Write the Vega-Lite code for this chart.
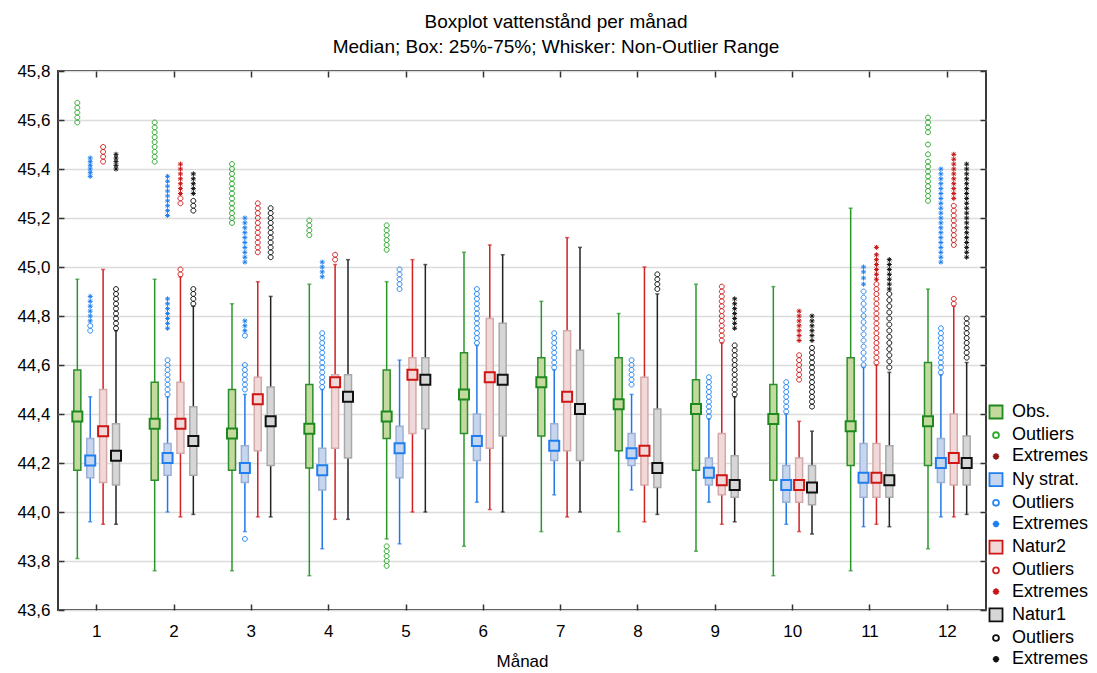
{
"$schema": "https://vega.github.io/schema/vega-lite/v6.json",
"width": 928, "height": 539,
"autosize": {"type": "none"},
"padding": {"left": 58, "top": 71, "right": 111, "bottom": 63},
"background": "white",
"title": {"text": "Boxplot vattenstånd per månad", "subtitle": "Median; Box: 25%-75%; Whisker: Non-Outlier Range", "font": "Liberation Sans", "fontSize": 19, "fontWeight": "normal", "color": "#000", "subtitleFont": "Liberation Sans", "subtitleFontSize": 19, "subtitleColor": "#000", "anchor": "middle", "offset": 5, "subtitlePadding": 6, "dx": 34},
"datasets": {
"boxes": [
{"m":1,"e":"Obs.","lo":43.81,"q1":44.17,"med":44.39,"q3":44.58,"hi":44.95},
{"m":1,"e":"Ny strat.","lo":43.96,"q1":44.14,"med":44.21,"q3":44.30,"hi":44.47},
{"m":1,"e":"Natur2","lo":43.95,"q1":44.12,"med":44.33,"q3":44.50,"hi":44.99},
{"m":1,"e":"Natur1","lo":43.95,"q1":44.11,"med":44.23,"q3":44.36,"hi":44.74},
{"m":2,"e":"Obs.","lo":43.76,"q1":44.13,"med":44.36,"q3":44.53,"hi":44.95},
{"m":2,"e":"Ny strat.","lo":44.00,"q1":44.15,"med":44.22,"q3":44.28,"hi":44.47},
{"m":2,"e":"Natur2","lo":43.98,"q1":44.24,"med":44.36,"q3":44.53,"hi":44.96},
{"m":2,"e":"Natur1","lo":43.99,"q1":44.15,"med":44.29,"q3":44.43,"hi":44.84},
{"m":3,"e":"Obs.","lo":43.76,"q1":44.17,"med":44.32,"q3":44.50,"hi":44.85},
{"m":3,"e":"Ny strat.","lo":43.92,"q1":44.12,"med":44.18,"q3":44.27,"hi":44.48},
{"m":3,"e":"Natur2","lo":43.98,"q1":44.25,"med":44.46,"q3":44.55,"hi":44.94},
{"m":3,"e":"Natur1","lo":43.98,"q1":44.19,"med":44.37,"q3":44.51,"hi":44.88},
{"m":4,"e":"Obs.","lo":43.74,"q1":44.18,"med":44.34,"q3":44.52,"hi":44.93},
{"m":4,"e":"Ny strat.","lo":43.85,"q1":44.09,"med":44.17,"q3":44.26,"hi":44.50},
{"m":4,"e":"Natur2","lo":43.97,"q1":44.26,"med":44.53,"q3":44.56,"hi":45.01},
{"m":4,"e":"Natur1","lo":43.97,"q1":44.22,"med":44.47,"q3":44.56,"hi":45.03},
{"m":5,"e":"Obs.","lo":43.89,"q1":44.30,"med":44.39,"q3":44.58,"hi":44.94},
{"m":5,"e":"Ny strat.","lo":43.87,"q1":44.14,"med":44.26,"q3":44.35,"hi":44.62},
{"m":5,"e":"Natur2","lo":44.00,"q1":44.32,"med":44.56,"q3":44.63,"hi":45.03},
{"m":5,"e":"Natur1","lo":44.00,"q1":44.34,"med":44.54,"q3":44.63,"hi":45.01},
{"m":6,"e":"Obs.","lo":43.86,"q1":44.32,"med":44.48,"q3":44.65,"hi":45.06},
{"m":6,"e":"Ny strat.","lo":44.04,"q1":44.21,"med":44.29,"q3":44.40,"hi":44.68},
{"m":6,"e":"Natur2","lo":44.01,"q1":44.26,"med":44.55,"q3":44.79,"hi":45.09},
{"m":6,"e":"Natur1","lo":44.00,"q1":44.31,"med":44.54,"q3":44.77,"hi":45.05},
{"m":7,"e":"Obs.","lo":43.92,"q1":44.31,"med":44.53,"q3":44.63,"hi":44.86},
{"m":7,"e":"Ny strat.","lo":44.07,"q1":44.21,"med":44.27,"q3":44.36,"hi":44.58},
{"m":7,"e":"Natur2","lo":43.98,"q1":44.25,"med":44.47,"q3":44.74,"hi":45.12},
{"m":7,"e":"Natur1","lo":44.00,"q1":44.21,"med":44.42,"q3":44.66,"hi":45.08},
{"m":8,"e":"Obs.","lo":43.92,"q1":44.25,"med":44.44,"q3":44.63,"hi":44.81},
{"m":8,"e":"Ny strat.","lo":44.09,"q1":44.19,"med":44.24,"q3":44.32,"hi":44.48},
{"m":8,"e":"Natur2","lo":43.96,"q1":44.11,"med":44.25,"q3":44.55,"hi":45.00},
{"m":8,"e":"Natur1","lo":43.99,"q1":44.10,"med":44.18,"q3":44.42,"hi":44.89},
{"m":9,"e":"Obs.","lo":43.84,"q1":44.17,"med":44.42,"q3":44.54,"hi":44.93},
{"m":9,"e":"Ny strat.","lo":44.04,"q1":44.11,"med":44.16,"q3":44.22,"hi":44.38},
{"m":9,"e":"Natur2","lo":43.95,"q1":44.07,"med":44.13,"q3":44.32,"hi":44.69},
{"m":9,"e":"Natur1","lo":43.96,"q1":44.06,"med":44.11,"q3":44.23,"hi":44.47},
{"m":10,"e":"Obs.","lo":43.74,"q1":44.13,"med":44.38,"q3":44.52,"hi":44.92},
{"m":10,"e":"Ny strat.","lo":43.95,"q1":44.04,"med":44.11,"q3":44.19,"hi":44.40},
{"m":10,"e":"Natur2","lo":43.92,"q1":44.04,"med":44.11,"q3":44.22,"hi":44.37},
{"m":10,"e":"Natur1","lo":43.91,"q1":44.03,"med":44.10,"q3":44.19,"hi":44.33},
{"m":11,"e":"Obs.","lo":43.76,"q1":44.19,"med":44.35,"q3":44.63,"hi":45.24},
{"m":11,"e":"Ny strat.","lo":43.94,"q1":44.06,"med":44.14,"q3":44.28,"hi":44.59},
{"m":11,"e":"Natur2","lo":43.95,"q1":44.06,"med":44.14,"q3":44.28,"hi":44.60},
{"m":11,"e":"Natur1","lo":43.94,"q1":44.06,"med":44.13,"q3":44.27,"hi":44.57},
{"m":12,"e":"Obs.","lo":43.85,"q1":44.19,"med":44.37,"q3":44.61,"hi":44.91},
{"m":12,"e":"Ny strat.","lo":43.98,"q1":44.12,"med":44.20,"q3":44.30,"hi":44.56},
{"m":12,"e":"Natur2","lo":43.98,"q1":44.11,"med":44.22,"q3":44.40,"hi":44.84},
{"m":12,"e":"Natur1","lo":43.99,"q1":44.11,"med":44.20,"q3":44.31,"hi":44.61}
],
"pts": [
{"m":1,"s":"Obs.","e":"Obs. Outliers","v":45.59},{"m":1,"s":"Obs.","e":"Obs. Outliers","v":45.61},{"m":1,"s":"Obs.","e":"Obs. Outliers","v":45.63},{"m":1,"s":"Obs.","e":"Obs. Outliers","v":45.65},{"m":1,"s":"Obs.","e":"Obs. Outliers","v":45.67},
{"m":1,"s":"Ny strat.","e":"Ny strat. Extremes","v":45.37},{"m":1,"s":"Ny strat.","e":"Ny strat. Extremes","v":45.385},{"m":1,"s":"Ny strat.","e":"Ny strat. Extremes","v":45.40},{"m":1,"s":"Ny strat.","e":"Ny strat. Extremes","v":45.415},{"m":1,"s":"Ny strat.","e":"Ny strat. Extremes","v":45.43},{"m":1,"s":"Ny strat.","e":"Ny strat. Extremes","v":45.445},
{"m":1,"s":"Ny strat.","e":"Ny strat. Extremes","v":44.78},{"m":1,"s":"Ny strat.","e":"Ny strat. Extremes","v":44.80},{"m":1,"s":"Ny strat.","e":"Ny strat. Extremes","v":44.82},{"m":1,"s":"Ny strat.","e":"Ny strat. Extremes","v":44.84},{"m":1,"s":"Ny strat.","e":"Ny strat. Extremes","v":44.86},{"m":1,"s":"Ny strat.","e":"Ny strat. Extremes","v":44.88},
{"m":1,"s":"Ny strat.","e":"Ny strat. Outliers","v":44.74},{"m":1,"s":"Ny strat.","e":"Ny strat. Outliers","v":44.76},
{"m":1,"s":"Natur2","e":"Natur2 Outliers","v":45.43},{"m":1,"s":"Natur2","e":"Natur2 Outliers","v":45.45},{"m":1,"s":"Natur2","e":"Natur2 Outliers","v":45.47},{"m":1,"s":"Natur2","e":"Natur2 Outliers","v":45.49},
{"m":1,"s":"Natur1","e":"Natur1 Extremes","v":45.40},{"m":1,"s":"Natur1","e":"Natur1 Extremes","v":45.415},{"m":1,"s":"Natur1","e":"Natur1 Extremes","v":45.43},{"m":1,"s":"Natur1","e":"Natur1 Extremes","v":45.445},{"m":1,"s":"Natur1","e":"Natur1 Extremes","v":45.46},
{"m":1,"s":"Natur1","e":"Natur1 Outliers","v":44.75},{"m":1,"s":"Natur1","e":"Natur1 Outliers","v":44.77},{"m":1,"s":"Natur1","e":"Natur1 Outliers","v":44.79},{"m":1,"s":"Natur1","e":"Natur1 Outliers","v":44.81},{"m":1,"s":"Natur1","e":"Natur1 Outliers","v":44.83},{"m":1,"s":"Natur1","e":"Natur1 Outliers","v":44.85},{"m":1,"s":"Natur1","e":"Natur1 Outliers","v":44.87},{"m":1,"s":"Natur1","e":"Natur1 Outliers","v":44.89},{"m":1,"s":"Natur1","e":"Natur1 Outliers","v":44.91},
{"m":2,"s":"Obs.","e":"Obs. Outliers","v":45.43},{"m":2,"s":"Obs.","e":"Obs. Outliers","v":45.45},{"m":2,"s":"Obs.","e":"Obs. Outliers","v":45.47},{"m":2,"s":"Obs.","e":"Obs. Outliers","v":45.49},{"m":2,"s":"Obs.","e":"Obs. Outliers","v":45.51},{"m":2,"s":"Obs.","e":"Obs. Outliers","v":45.53},{"m":2,"s":"Obs.","e":"Obs. Outliers","v":45.55},{"m":2,"s":"Obs.","e":"Obs. Outliers","v":45.57},{"m":2,"s":"Obs.","e":"Obs. Outliers","v":45.59},
{"m":2,"s":"Ny strat.","e":"Ny strat. Extremes","v":45.21},{"m":2,"s":"Ny strat.","e":"Ny strat. Extremes","v":45.23},{"m":2,"s":"Ny strat.","e":"Ny strat. Extremes","v":45.25},{"m":2,"s":"Ny strat.","e":"Ny strat. Extremes","v":45.27},{"m":2,"s":"Ny strat.","e":"Ny strat. Extremes","v":45.29},{"m":2,"s":"Ny strat.","e":"Ny strat. Extremes","v":45.31},{"m":2,"s":"Ny strat.","e":"Ny strat. Extremes","v":45.33},{"m":2,"s":"Ny strat.","e":"Ny strat. Extremes","v":45.35},{"m":2,"s":"Ny strat.","e":"Ny strat. Extremes","v":45.37},
{"m":2,"s":"Ny strat.","e":"Ny strat. Extremes","v":44.75},{"m":2,"s":"Ny strat.","e":"Ny strat. Extremes","v":44.77},{"m":2,"s":"Ny strat.","e":"Ny strat. Extremes","v":44.79},{"m":2,"s":"Ny strat.","e":"Ny strat. Extremes","v":44.81},{"m":2,"s":"Ny strat.","e":"Ny strat. Extremes","v":44.83},{"m":2,"s":"Ny strat.","e":"Ny strat. Extremes","v":44.85},{"m":2,"s":"Ny strat.","e":"Ny strat. Extremes","v":44.87},
{"m":2,"s":"Ny strat.","e":"Ny strat. Outliers","v":44.48},{"m":2,"s":"Ny strat.","e":"Ny strat. Outliers","v":44.50},{"m":2,"s":"Ny strat.","e":"Ny strat. Outliers","v":44.52},{"m":2,"s":"Ny strat.","e":"Ny strat. Outliers","v":44.54},{"m":2,"s":"Ny strat.","e":"Ny strat. Outliers","v":44.56},{"m":2,"s":"Ny strat.","e":"Ny strat. Outliers","v":44.58},{"m":2,"s":"Ny strat.","e":"Ny strat. Outliers","v":44.60},{"m":2,"s":"Ny strat.","e":"Ny strat. Outliers","v":44.62},
{"m":2,"s":"Natur2","e":"Natur2 Extremes","v":45.30},{"m":2,"s":"Natur2","e":"Natur2 Extremes","v":45.32},{"m":2,"s":"Natur2","e":"Natur2 Extremes","v":45.34},{"m":2,"s":"Natur2","e":"Natur2 Extremes","v":45.36},{"m":2,"s":"Natur2","e":"Natur2 Extremes","v":45.38},{"m":2,"s":"Natur2","e":"Natur2 Extremes","v":45.40},{"m":2,"s":"Natur2","e":"Natur2 Extremes","v":45.42},
{"m":2,"s":"Natur2","e":"Natur2 Outliers","v":45.26},{"m":2,"s":"Natur2","e":"Natur2 Outliers","v":45.28},{"m":2,"s":"Natur2","e":"Natur2 Outliers","v":44.97},{"m":2,"s":"Natur2","e":"Natur2 Outliers","v":44.99},
{"m":2,"s":"Natur1","e":"Natur1 Extremes","v":45.30},{"m":2,"s":"Natur1","e":"Natur1 Extremes","v":45.32},{"m":2,"s":"Natur1","e":"Natur1 Extremes","v":45.34},{"m":2,"s":"Natur1","e":"Natur1 Extremes","v":45.36},{"m":2,"s":"Natur1","e":"Natur1 Extremes","v":45.38},
{"m":2,"s":"Natur1","e":"Natur1 Outliers","v":45.23},{"m":2,"s":"Natur1","e":"Natur1 Outliers","v":45.25},{"m":2,"s":"Natur1","e":"Natur1 Outliers","v":45.27},{"m":2,"s":"Natur1","e":"Natur1 Outliers","v":44.85},{"m":2,"s":"Natur1","e":"Natur1 Outliers","v":44.87},{"m":2,"s":"Natur1","e":"Natur1 Outliers","v":44.89},{"m":2,"s":"Natur1","e":"Natur1 Outliers","v":44.91},
{"m":3,"s":"Obs.","e":"Obs. Outliers","v":45.18},{"m":3,"s":"Obs.","e":"Obs. Outliers","v":45.20},{"m":3,"s":"Obs.","e":"Obs. Outliers","v":45.22},{"m":3,"s":"Obs.","e":"Obs. Outliers","v":45.24},{"m":3,"s":"Obs.","e":"Obs. Outliers","v":45.26},{"m":3,"s":"Obs.","e":"Obs. Outliers","v":45.28},{"m":3,"s":"Obs.","e":"Obs. Outliers","v":45.30},{"m":3,"s":"Obs.","e":"Obs. Outliers","v":45.32},{"m":3,"s":"Obs.","e":"Obs. Outliers","v":45.34},{"m":3,"s":"Obs.","e":"Obs. Outliers","v":45.36},{"m":3,"s":"Obs.","e":"Obs. Outliers","v":45.38},{"m":3,"s":"Obs.","e":"Obs. Outliers","v":45.40},{"m":3,"s":"Obs.","e":"Obs. Outliers","v":45.42},
{"m":3,"s":"Ny strat.","e":"Ny strat. Extremes","v":45.02},{"m":3,"s":"Ny strat.","e":"Ny strat. Extremes","v":45.04},{"m":3,"s":"Ny strat.","e":"Ny strat. Extremes","v":45.06},{"m":3,"s":"Ny strat.","e":"Ny strat. Extremes","v":45.08},{"m":3,"s":"Ny strat.","e":"Ny strat. Extremes","v":45.10},{"m":3,"s":"Ny strat.","e":"Ny strat. Extremes","v":45.12},{"m":3,"s":"Ny strat.","e":"Ny strat. Extremes","v":45.14},{"m":3,"s":"Ny strat.","e":"Ny strat. Extremes","v":45.16},{"m":3,"s":"Ny strat.","e":"Ny strat. Extremes","v":45.18},{"m":3,"s":"Ny strat.","e":"Ny strat. Extremes","v":45.20},
{"m":3,"s":"Ny strat.","e":"Ny strat. Extremes","v":44.74},{"m":3,"s":"Ny strat.","e":"Ny strat. Extremes","v":44.76},{"m":3,"s":"Ny strat.","e":"Ny strat. Extremes","v":44.78},
{"m":3,"s":"Ny strat.","e":"Ny strat. Outliers","v":44.72},{"m":3,"s":"Ny strat.","e":"Ny strat. Outliers","v":44.50},{"m":3,"s":"Ny strat.","e":"Ny strat. Outliers","v":44.52},{"m":3,"s":"Ny strat.","e":"Ny strat. Outliers","v":44.54},{"m":3,"s":"Ny strat.","e":"Ny strat. Outliers","v":44.56},{"m":3,"s":"Ny strat.","e":"Ny strat. Outliers","v":44.58},{"m":3,"s":"Ny strat.","e":"Ny strat. Outliers","v":44.60},{"m":3,"s":"Ny strat.","e":"Ny strat. Outliers","v":43.89},
{"m":3,"s":"Natur2","e":"Natur2 Outliers","v":45.06},{"m":3,"s":"Natur2","e":"Natur2 Outliers","v":45.08},{"m":3,"s":"Natur2","e":"Natur2 Outliers","v":45.10},{"m":3,"s":"Natur2","e":"Natur2 Outliers","v":45.12},{"m":3,"s":"Natur2","e":"Natur2 Outliers","v":45.14},{"m":3,"s":"Natur2","e":"Natur2 Outliers","v":45.16},{"m":3,"s":"Natur2","e":"Natur2 Outliers","v":45.18},{"m":3,"s":"Natur2","e":"Natur2 Outliers","v":45.20},{"m":3,"s":"Natur2","e":"Natur2 Outliers","v":45.22},{"m":3,"s":"Natur2","e":"Natur2 Outliers","v":45.24},{"m":3,"s":"Natur2","e":"Natur2 Outliers","v":45.26},
{"m":3,"s":"Natur1","e":"Natur1 Outliers","v":45.04},{"m":3,"s":"Natur1","e":"Natur1 Outliers","v":45.06},{"m":3,"s":"Natur1","e":"Natur1 Outliers","v":45.08},{"m":3,"s":"Natur1","e":"Natur1 Outliers","v":45.10},{"m":3,"s":"Natur1","e":"Natur1 Outliers","v":45.12},{"m":3,"s":"Natur1","e":"Natur1 Outliers","v":45.14},{"m":3,"s":"Natur1","e":"Natur1 Outliers","v":45.16},{"m":3,"s":"Natur1","e":"Natur1 Outliers","v":45.18},{"m":3,"s":"Natur1","e":"Natur1 Outliers","v":45.20},{"m":3,"s":"Natur1","e":"Natur1 Outliers","v":45.22},{"m":3,"s":"Natur1","e":"Natur1 Outliers","v":45.24},
{"m":4,"s":"Obs.","e":"Obs. Outliers","v":45.13},{"m":4,"s":"Obs.","e":"Obs. Outliers","v":45.15},{"m":4,"s":"Obs.","e":"Obs. Outliers","v":45.17},{"m":4,"s":"Obs.","e":"Obs. Outliers","v":45.19},
{"m":4,"s":"Ny strat.","e":"Ny strat. Extremes","v":44.96},{"m":4,"s":"Ny strat.","e":"Ny strat. Extremes","v":44.98},{"m":4,"s":"Ny strat.","e":"Ny strat. Extremes","v":45.00},{"m":4,"s":"Ny strat.","e":"Ny strat. Extremes","v":45.02},
{"m":4,"s":"Ny strat.","e":"Ny strat. Outliers","v":44.51},{"m":4,"s":"Ny strat.","e":"Ny strat. Outliers","v":44.53},{"m":4,"s":"Ny strat.","e":"Ny strat. Outliers","v":44.55},{"m":4,"s":"Ny strat.","e":"Ny strat. Outliers","v":44.57},{"m":4,"s":"Ny strat.","e":"Ny strat. Outliers","v":44.59},{"m":4,"s":"Ny strat.","e":"Ny strat. Outliers","v":44.61},{"m":4,"s":"Ny strat.","e":"Ny strat. Outliers","v":44.63},{"m":4,"s":"Ny strat.","e":"Ny strat. Outliers","v":44.65},{"m":4,"s":"Ny strat.","e":"Ny strat. Outliers","v":44.67},{"m":4,"s":"Ny strat.","e":"Ny strat. Outliers","v":44.69},{"m":4,"s":"Ny strat.","e":"Ny strat. Outliers","v":44.71},{"m":4,"s":"Ny strat.","e":"Ny strat. Outliers","v":44.73},
{"m":4,"s":"Natur2","e":"Natur2 Outliers","v":45.03},{"m":4,"s":"Natur2","e":"Natur2 Outliers","v":45.05},
{"m":5,"s":"Obs.","e":"Obs. Outliers","v":45.07},{"m":5,"s":"Obs.","e":"Obs. Outliers","v":45.09},{"m":5,"s":"Obs.","e":"Obs. Outliers","v":45.11},{"m":5,"s":"Obs.","e":"Obs. Outliers","v":45.13},{"m":5,"s":"Obs.","e":"Obs. Outliers","v":45.15},{"m":5,"s":"Obs.","e":"Obs. Outliers","v":45.17},
{"m":5,"s":"Obs.","e":"Obs. Outliers","v":43.78},{"m":5,"s":"Obs.","e":"Obs. Outliers","v":43.80},{"m":5,"s":"Obs.","e":"Obs. Outliers","v":43.82},{"m":5,"s":"Obs.","e":"Obs. Outliers","v":43.84},{"m":5,"s":"Obs.","e":"Obs. Outliers","v":43.86},
{"m":5,"s":"Ny strat.","e":"Ny strat. Outliers","v":44.91},{"m":5,"s":"Ny strat.","e":"Ny strat. Outliers","v":44.93},{"m":5,"s":"Ny strat.","e":"Ny strat. Outliers","v":44.95},{"m":5,"s":"Ny strat.","e":"Ny strat. Outliers","v":44.97},{"m":5,"s":"Ny strat.","e":"Ny strat. Outliers","v":44.99},
{"m":6,"s":"Ny strat.","e":"Ny strat. Outliers","v":44.69},{"m":6,"s":"Ny strat.","e":"Ny strat. Outliers","v":44.71},{"m":6,"s":"Ny strat.","e":"Ny strat. Outliers","v":44.73},{"m":6,"s":"Ny strat.","e":"Ny strat. Outliers","v":44.75},{"m":6,"s":"Ny strat.","e":"Ny strat. Outliers","v":44.77},{"m":6,"s":"Ny strat.","e":"Ny strat. Outliers","v":44.79},{"m":6,"s":"Ny strat.","e":"Ny strat. Outliers","v":44.81},{"m":6,"s":"Ny strat.","e":"Ny strat. Outliers","v":44.83},{"m":6,"s":"Ny strat.","e":"Ny strat. Outliers","v":44.85},{"m":6,"s":"Ny strat.","e":"Ny strat. Outliers","v":44.87},{"m":6,"s":"Ny strat.","e":"Ny strat. Outliers","v":44.89},{"m":6,"s":"Ny strat.","e":"Ny strat. Outliers","v":44.91},
{"m":7,"s":"Ny strat.","e":"Ny strat. Outliers","v":44.59},{"m":7,"s":"Ny strat.","e":"Ny strat. Outliers","v":44.61},{"m":7,"s":"Ny strat.","e":"Ny strat. Outliers","v":44.63},{"m":7,"s":"Ny strat.","e":"Ny strat. Outliers","v":44.65},{"m":7,"s":"Ny strat.","e":"Ny strat. Outliers","v":44.67},{"m":7,"s":"Ny strat.","e":"Ny strat. Outliers","v":44.69},{"m":7,"s":"Ny strat.","e":"Ny strat. Outliers","v":44.71},{"m":7,"s":"Ny strat.","e":"Ny strat. Outliers","v":44.73},
{"m":8,"s":"Ny strat.","e":"Ny strat. Outliers","v":44.52},{"m":8,"s":"Ny strat.","e":"Ny strat. Outliers","v":44.54},{"m":8,"s":"Ny strat.","e":"Ny strat. Outliers","v":44.56},{"m":8,"s":"Ny strat.","e":"Ny strat. Outliers","v":44.58},{"m":8,"s":"Ny strat.","e":"Ny strat. Outliers","v":44.60},{"m":8,"s":"Ny strat.","e":"Ny strat. Outliers","v":44.62},
{"m":8,"s":"Natur1","e":"Natur1 Outliers","v":44.91},{"m":8,"s":"Natur1","e":"Natur1 Outliers","v":44.93},{"m":8,"s":"Natur1","e":"Natur1 Outliers","v":44.95},{"m":8,"s":"Natur1","e":"Natur1 Outliers","v":44.97},
{"m":9,"s":"Ny strat.","e":"Ny strat. Outliers","v":44.39},{"m":9,"s":"Ny strat.","e":"Ny strat. Outliers","v":44.41},{"m":9,"s":"Ny strat.","e":"Ny strat. Outliers","v":44.43},{"m":9,"s":"Ny strat.","e":"Ny strat. Outliers","v":44.45},{"m":9,"s":"Ny strat.","e":"Ny strat. Outliers","v":44.47},{"m":9,"s":"Ny strat.","e":"Ny strat. Outliers","v":44.49},{"m":9,"s":"Ny strat.","e":"Ny strat. Outliers","v":44.51},{"m":9,"s":"Ny strat.","e":"Ny strat. Outliers","v":44.53},{"m":9,"s":"Ny strat.","e":"Ny strat. Outliers","v":44.55},
{"m":9,"s":"Natur2","e":"Natur2 Outliers","v":44.70},{"m":9,"s":"Natur2","e":"Natur2 Outliers","v":44.72},{"m":9,"s":"Natur2","e":"Natur2 Outliers","v":44.74},{"m":9,"s":"Natur2","e":"Natur2 Outliers","v":44.76},{"m":9,"s":"Natur2","e":"Natur2 Outliers","v":44.78},{"m":9,"s":"Natur2","e":"Natur2 Outliers","v":44.80},{"m":9,"s":"Natur2","e":"Natur2 Outliers","v":44.82},{"m":9,"s":"Natur2","e":"Natur2 Outliers","v":44.84},{"m":9,"s":"Natur2","e":"Natur2 Outliers","v":44.86},{"m":9,"s":"Natur2","e":"Natur2 Outliers","v":44.88},{"m":9,"s":"Natur2","e":"Natur2 Outliers","v":44.90},{"m":9,"s":"Natur2","e":"Natur2 Outliers","v":44.92},
{"m":9,"s":"Natur1","e":"Natur1 Extremes","v":44.75},{"m":9,"s":"Natur1","e":"Natur1 Extremes","v":44.77},{"m":9,"s":"Natur1","e":"Natur1 Extremes","v":44.79},{"m":9,"s":"Natur1","e":"Natur1 Extremes","v":44.81},{"m":9,"s":"Natur1","e":"Natur1 Extremes","v":44.83},{"m":9,"s":"Natur1","e":"Natur1 Extremes","v":44.85},{"m":9,"s":"Natur1","e":"Natur1 Extremes","v":44.87},
{"m":9,"s":"Natur1","e":"Natur1 Outliers","v":44.48},{"m":9,"s":"Natur1","e":"Natur1 Outliers","v":44.50},{"m":9,"s":"Natur1","e":"Natur1 Outliers","v":44.52},{"m":9,"s":"Natur1","e":"Natur1 Outliers","v":44.54},{"m":9,"s":"Natur1","e":"Natur1 Outliers","v":44.56},{"m":9,"s":"Natur1","e":"Natur1 Outliers","v":44.58},{"m":9,"s":"Natur1","e":"Natur1 Outliers","v":44.60},{"m":9,"s":"Natur1","e":"Natur1 Outliers","v":44.62},{"m":9,"s":"Natur1","e":"Natur1 Outliers","v":44.64},{"m":9,"s":"Natur1","e":"Natur1 Outliers","v":44.66},{"m":9,"s":"Natur1","e":"Natur1 Outliers","v":44.68},
{"m":10,"s":"Ny strat.","e":"Ny strat. Outliers","v":44.41},{"m":10,"s":"Ny strat.","e":"Ny strat. Outliers","v":44.43},{"m":10,"s":"Ny strat.","e":"Ny strat. Outliers","v":44.45},{"m":10,"s":"Ny strat.","e":"Ny strat. Outliers","v":44.47},{"m":10,"s":"Ny strat.","e":"Ny strat. Outliers","v":44.49},{"m":10,"s":"Ny strat.","e":"Ny strat. Outliers","v":44.51},{"m":10,"s":"Ny strat.","e":"Ny strat. Outliers","v":44.53},
{"m":10,"s":"Natur2","e":"Natur2 Extremes","v":44.70},{"m":10,"s":"Natur2","e":"Natur2 Extremes","v":44.72},{"m":10,"s":"Natur2","e":"Natur2 Extremes","v":44.74},{"m":10,"s":"Natur2","e":"Natur2 Extremes","v":44.76},{"m":10,"s":"Natur2","e":"Natur2 Extremes","v":44.78},{"m":10,"s":"Natur2","e":"Natur2 Extremes","v":44.80},{"m":10,"s":"Natur2","e":"Natur2 Extremes","v":44.82},
{"m":10,"s":"Natur2","e":"Natur2 Outliers","v":44.54},{"m":10,"s":"Natur2","e":"Natur2 Outliers","v":44.56},{"m":10,"s":"Natur2","e":"Natur2 Outliers","v":44.58},{"m":10,"s":"Natur2","e":"Natur2 Outliers","v":44.60},{"m":10,"s":"Natur2","e":"Natur2 Outliers","v":44.62},{"m":10,"s":"Natur2","e":"Natur2 Outliers","v":44.64},
{"m":10,"s":"Natur1","e":"Natur1 Extremes","v":44.70},{"m":10,"s":"Natur1","e":"Natur1 Extremes","v":44.72},{"m":10,"s":"Natur1","e":"Natur1 Extremes","v":44.74},{"m":10,"s":"Natur1","e":"Natur1 Extremes","v":44.76},{"m":10,"s":"Natur1","e":"Natur1 Extremes","v":44.78},{"m":10,"s":"Natur1","e":"Natur1 Extremes","v":44.80},
{"m":10,"s":"Natur1","e":"Natur1 Outliers","v":44.43},{"m":10,"s":"Natur1","e":"Natur1 Outliers","v":44.45},{"m":10,"s":"Natur1","e":"Natur1 Outliers","v":44.47},{"m":10,"s":"Natur1","e":"Natur1 Outliers","v":44.49},{"m":10,"s":"Natur1","e":"Natur1 Outliers","v":44.51},{"m":10,"s":"Natur1","e":"Natur1 Outliers","v":44.53},{"m":10,"s":"Natur1","e":"Natur1 Outliers","v":44.55},{"m":10,"s":"Natur1","e":"Natur1 Outliers","v":44.57},{"m":10,"s":"Natur1","e":"Natur1 Outliers","v":44.59},{"m":10,"s":"Natur1","e":"Natur1 Outliers","v":44.61},{"m":10,"s":"Natur1","e":"Natur1 Outliers","v":44.63},{"m":10,"s":"Natur1","e":"Natur1 Outliers","v":44.65},{"m":10,"s":"Natur1","e":"Natur1 Outliers","v":44.67},
{"m":11,"s":"Ny strat.","e":"Ny strat. Extremes","v":44.93},{"m":11,"s":"Ny strat.","e":"Ny strat. Extremes","v":44.955},{"m":11,"s":"Ny strat.","e":"Ny strat. Extremes","v":44.98},{"m":11,"s":"Ny strat.","e":"Ny strat. Extremes","v":45.00},
{"m":11,"s":"Ny strat.","e":"Ny strat. Outliers","v":44.60},{"m":11,"s":"Ny strat.","e":"Ny strat. Outliers","v":44.625},{"m":11,"s":"Ny strat.","e":"Ny strat. Outliers","v":44.65},{"m":11,"s":"Ny strat.","e":"Ny strat. Outliers","v":44.675},{"m":11,"s":"Ny strat.","e":"Ny strat. Outliers","v":44.70},{"m":11,"s":"Ny strat.","e":"Ny strat. Outliers","v":44.725},{"m":11,"s":"Ny strat.","e":"Ny strat. Outliers","v":44.75},{"m":11,"s":"Ny strat.","e":"Ny strat. Outliers","v":44.775},{"m":11,"s":"Ny strat.","e":"Ny strat. Outliers","v":44.80},{"m":11,"s":"Ny strat.","e":"Ny strat. Outliers","v":44.825},{"m":11,"s":"Ny strat.","e":"Ny strat. Outliers","v":44.85},{"m":11,"s":"Ny strat.","e":"Ny strat. Outliers","v":44.875},{"m":11,"s":"Ny strat.","e":"Ny strat. Outliers","v":44.90},
{"m":11,"s":"Natur2","e":"Natur2 Extremes","v":44.95},{"m":11,"s":"Natur2","e":"Natur2 Extremes","v":44.97},{"m":11,"s":"Natur2","e":"Natur2 Extremes","v":44.99},{"m":11,"s":"Natur2","e":"Natur2 Extremes","v":45.01},{"m":11,"s":"Natur2","e":"Natur2 Extremes","v":45.03},{"m":11,"s":"Natur2","e":"Natur2 Extremes","v":45.05},{"m":11,"s":"Natur2","e":"Natur2 Extremes","v":45.08},
{"m":11,"s":"Natur2","e":"Natur2 Outliers","v":44.61},{"m":11,"s":"Natur2","e":"Natur2 Outliers","v":44.63},{"m":11,"s":"Natur2","e":"Natur2 Outliers","v":44.65},{"m":11,"s":"Natur2","e":"Natur2 Outliers","v":44.67},{"m":11,"s":"Natur2","e":"Natur2 Outliers","v":44.69},{"m":11,"s":"Natur2","e":"Natur2 Outliers","v":44.71},{"m":11,"s":"Natur2","e":"Natur2 Outliers","v":44.73},{"m":11,"s":"Natur2","e":"Natur2 Outliers","v":44.75},{"m":11,"s":"Natur2","e":"Natur2 Outliers","v":44.77},{"m":11,"s":"Natur2","e":"Natur2 Outliers","v":44.79},{"m":11,"s":"Natur2","e":"Natur2 Outliers","v":44.81},{"m":11,"s":"Natur2","e":"Natur2 Outliers","v":44.83},{"m":11,"s":"Natur2","e":"Natur2 Outliers","v":44.85},{"m":11,"s":"Natur2","e":"Natur2 Outliers","v":44.87},{"m":11,"s":"Natur2","e":"Natur2 Outliers","v":44.89},{"m":11,"s":"Natur2","e":"Natur2 Outliers","v":44.91},{"m":11,"s":"Natur2","e":"Natur2 Outliers","v":44.93},
{"m":11,"s":"Natur1","e":"Natur1 Extremes","v":44.91},{"m":11,"s":"Natur1","e":"Natur1 Extremes","v":44.93},{"m":11,"s":"Natur1","e":"Natur1 Extremes","v":44.95},{"m":11,"s":"Natur1","e":"Natur1 Extremes","v":44.97},{"m":11,"s":"Natur1","e":"Natur1 Extremes","v":44.99},{"m":11,"s":"Natur1","e":"Natur1 Extremes","v":45.01},{"m":11,"s":"Natur1","e":"Natur1 Extremes","v":45.03},
{"m":11,"s":"Natur1","e":"Natur1 Outliers","v":44.59},{"m":11,"s":"Natur1","e":"Natur1 Outliers","v":44.615},{"m":11,"s":"Natur1","e":"Natur1 Outliers","v":44.64},{"m":11,"s":"Natur1","e":"Natur1 Outliers","v":44.665},{"m":11,"s":"Natur1","e":"Natur1 Outliers","v":44.69},{"m":11,"s":"Natur1","e":"Natur1 Outliers","v":44.715},{"m":11,"s":"Natur1","e":"Natur1 Outliers","v":44.74},{"m":11,"s":"Natur1","e":"Natur1 Outliers","v":44.765},{"m":11,"s":"Natur1","e":"Natur1 Outliers","v":44.79},{"m":11,"s":"Natur1","e":"Natur1 Outliers","v":44.815},{"m":11,"s":"Natur1","e":"Natur1 Outliers","v":44.84},{"m":11,"s":"Natur1","e":"Natur1 Outliers","v":44.865},{"m":11,"s":"Natur1","e":"Natur1 Outliers","v":44.89},
{"m":12,"s":"Obs.","e":"Obs. Outliers","v":45.27},{"m":12,"s":"Obs.","e":"Obs. Outliers","v":45.29},{"m":12,"s":"Obs.","e":"Obs. Outliers","v":45.31},{"m":12,"s":"Obs.","e":"Obs. Outliers","v":45.33},{"m":12,"s":"Obs.","e":"Obs. Outliers","v":45.35},{"m":12,"s":"Obs.","e":"Obs. Outliers","v":45.37},{"m":12,"s":"Obs.","e":"Obs. Outliers","v":45.39},{"m":12,"s":"Obs.","e":"Obs. Outliers","v":45.41},{"m":12,"s":"Obs.","e":"Obs. Outliers","v":45.43},{"m":12,"s":"Obs.","e":"Obs. Outliers","v":45.46},{"m":12,"s":"Obs.","e":"Obs. Outliers","v":45.50},{"m":12,"s":"Obs.","e":"Obs. Outliers","v":45.55},{"m":12,"s":"Obs.","e":"Obs. Outliers","v":45.57},{"m":12,"s":"Obs.","e":"Obs. Outliers","v":45.59},{"m":12,"s":"Obs.","e":"Obs. Outliers","v":45.61},
{"m":12,"s":"Ny strat.","e":"Ny strat. Extremes","v":45.02},{"m":12,"s":"Ny strat.","e":"Ny strat. Extremes","v":45.04},{"m":12,"s":"Ny strat.","e":"Ny strat. Extremes","v":45.06},{"m":12,"s":"Ny strat.","e":"Ny strat. Extremes","v":45.08},{"m":12,"s":"Ny strat.","e":"Ny strat. Extremes","v":45.10},{"m":12,"s":"Ny strat.","e":"Ny strat. Extremes","v":45.12},{"m":12,"s":"Ny strat.","e":"Ny strat. Extremes","v":45.14},{"m":12,"s":"Ny strat.","e":"Ny strat. Extremes","v":45.16},{"m":12,"s":"Ny strat.","e":"Ny strat. Extremes","v":45.18},{"m":12,"s":"Ny strat.","e":"Ny strat. Extremes","v":45.20},{"m":12,"s":"Ny strat.","e":"Ny strat. Extremes","v":45.22},{"m":12,"s":"Ny strat.","e":"Ny strat. Extremes","v":45.24},{"m":12,"s":"Ny strat.","e":"Ny strat. Extremes","v":45.26},{"m":12,"s":"Ny strat.","e":"Ny strat. Extremes","v":45.28},{"m":12,"s":"Ny strat.","e":"Ny strat. Extremes","v":45.30},{"m":12,"s":"Ny strat.","e":"Ny strat. Extremes","v":45.32},{"m":12,"s":"Ny strat.","e":"Ny strat. Extremes","v":45.34},{"m":12,"s":"Ny strat.","e":"Ny strat. Extremes","v":45.36},{"m":12,"s":"Ny strat.","e":"Ny strat. Extremes","v":45.38},{"m":12,"s":"Ny strat.","e":"Ny strat. Extremes","v":45.40},
{"m":12,"s":"Ny strat.","e":"Ny strat. Outliers","v":44.57},{"m":12,"s":"Ny strat.","e":"Ny strat. Outliers","v":44.59},{"m":12,"s":"Ny strat.","e":"Ny strat. Outliers","v":44.61},{"m":12,"s":"Ny strat.","e":"Ny strat. Outliers","v":44.63},{"m":12,"s":"Ny strat.","e":"Ny strat. Outliers","v":44.65},{"m":12,"s":"Ny strat.","e":"Ny strat. Outliers","v":44.67},{"m":12,"s":"Ny strat.","e":"Ny strat. Outliers","v":44.69},{"m":12,"s":"Ny strat.","e":"Ny strat. Outliers","v":44.71},{"m":12,"s":"Ny strat.","e":"Ny strat. Outliers","v":44.73},{"m":12,"s":"Ny strat.","e":"Ny strat. Outliers","v":44.75},
{"m":12,"s":"Natur2","e":"Natur2 Extremes","v":45.28},{"m":12,"s":"Natur2","e":"Natur2 Extremes","v":45.30},{"m":12,"s":"Natur2","e":"Natur2 Extremes","v":45.32},{"m":12,"s":"Natur2","e":"Natur2 Extremes","v":45.34},{"m":12,"s":"Natur2","e":"Natur2 Extremes","v":45.36},{"m":12,"s":"Natur2","e":"Natur2 Extremes","v":45.38},{"m":12,"s":"Natur2","e":"Natur2 Extremes","v":45.40},{"m":12,"s":"Natur2","e":"Natur2 Extremes","v":45.42},{"m":12,"s":"Natur2","e":"Natur2 Extremes","v":45.44},{"m":12,"s":"Natur2","e":"Natur2 Extremes","v":45.46},
{"m":12,"s":"Natur2","e":"Natur2 Outliers","v":45.09},{"m":12,"s":"Natur2","e":"Natur2 Outliers","v":45.11},{"m":12,"s":"Natur2","e":"Natur2 Outliers","v":45.13},{"m":12,"s":"Natur2","e":"Natur2 Outliers","v":45.15},{"m":12,"s":"Natur2","e":"Natur2 Outliers","v":45.17},{"m":12,"s":"Natur2","e":"Natur2 Outliers","v":45.19},{"m":12,"s":"Natur2","e":"Natur2 Outliers","v":45.21},{"m":12,"s":"Natur2","e":"Natur2 Outliers","v":45.23},{"m":12,"s":"Natur2","e":"Natur2 Outliers","v":45.25},{"m":12,"s":"Natur2","e":"Natur2 Outliers","v":44.85},{"m":12,"s":"Natur2","e":"Natur2 Outliers","v":44.87},
{"m":12,"s":"Natur1","e":"Natur1 Extremes","v":45.04},{"m":12,"s":"Natur1","e":"Natur1 Extremes","v":45.06},{"m":12,"s":"Natur1","e":"Natur1 Extremes","v":45.08},{"m":12,"s":"Natur1","e":"Natur1 Extremes","v":45.10},{"m":12,"s":"Natur1","e":"Natur1 Extremes","v":45.12},{"m":12,"s":"Natur1","e":"Natur1 Extremes","v":45.14},{"m":12,"s":"Natur1","e":"Natur1 Extremes","v":45.16},{"m":12,"s":"Natur1","e":"Natur1 Extremes","v":45.18},{"m":12,"s":"Natur1","e":"Natur1 Extremes","v":45.20},{"m":12,"s":"Natur1","e":"Natur1 Extremes","v":45.22},{"m":12,"s":"Natur1","e":"Natur1 Extremes","v":45.24},{"m":12,"s":"Natur1","e":"Natur1 Extremes","v":45.26},{"m":12,"s":"Natur1","e":"Natur1 Extremes","v":45.28},{"m":12,"s":"Natur1","e":"Natur1 Extremes","v":45.30},{"m":12,"s":"Natur1","e":"Natur1 Extremes","v":45.32},{"m":12,"s":"Natur1","e":"Natur1 Extremes","v":45.34},{"m":12,"s":"Natur1","e":"Natur1 Extremes","v":45.36},{"m":12,"s":"Natur1","e":"Natur1 Extremes","v":45.38},{"m":12,"s":"Natur1","e":"Natur1 Extremes","v":45.40},{"m":12,"s":"Natur1","e":"Natur1 Extremes","v":45.42},
{"m":12,"s":"Natur1","e":"Natur1 Outliers","v":44.63},{"m":12,"s":"Natur1","e":"Natur1 Outliers","v":44.65},{"m":12,"s":"Natur1","e":"Natur1 Outliers","v":44.67},{"m":12,"s":"Natur1","e":"Natur1 Outliers","v":44.69},{"m":12,"s":"Natur1","e":"Natur1 Outliers","v":44.71},{"m":12,"s":"Natur1","e":"Natur1 Outliers","v":44.73},{"m":12,"s":"Natur1","e":"Natur1 Outliers","v":44.75},{"m":12,"s":"Natur1","e":"Natur1 Outliers","v":44.77},{"m":12,"s":"Natur1","e":"Natur1 Outliers","v":44.79}
]
},
"layer": [
{
"data": {"name": "boxes"},
"mark": {"type": "rule", "strokeWidth": 1.5},
"encoding": {
"x": {"field": "m", "type": "ordinal", "scale": {"paddingInner": 0, "paddingOuter": 0}, "axis": {"orient": "bottom", "title": "Månad", "labelAngle": 0, "tickSize": -6, "labelPadding": 19, "titlePadding": 14, "grid": false}},
"xOffset": {"field": "e", "type": "nominal", "scale": {"domain": ["Obs.", "Ny strat.", "Natur2", "Natur1"], "paddingOuter": 2, "paddingInner": 0}},
"y": {"field": "lo", "type": "quantitative", "scale": {"domain": [43.6, 45.8], "nice": false, "zero": false}, "axis": {"orient": "left", "title": null, "values": [43.6, 43.8, 44.0, 44.2, 44.4, 44.6, 44.8, 45.0, 45.2, 45.4, 45.6, 45.8], "labelExpr": "replace(format(datum.value, '.1f'), '.', ',')", "grid": true, "gridColor": "#dcdcdc", "gridWidth": 1.5, "tickSize": -6, "labelPadding": 14}},
"y2": {"field": "hi"},
"stroke": {"condition": [{"test": "datum.e === 'Obs.'", "value": "#2a962a"}, {"test": "datum.e === 'Ny strat.'", "value": "#1f78e8"}, {"test": "datum.e === 'Natur2'", "value": "#d42020"}], "value": "#222222"}
}
},
{
"data": {"name": "boxes"},
"mark": {"type": "tick", "thickness": 1.5, "size": 4},
"encoding": {
"x": {"field": "m", "type": "ordinal", "axis": {"orient": "top", "labels": false, "title": null, "tickSize": -6, "grid": false}},
"xOffset": {"field": "e", "type": "nominal"},
"y": {"field": "lo", "type": "quantitative", "axis": {"orient": "right", "labels": false, "title": null, "values": [43.6, 43.8, 44.0, 44.2, 44.4, 44.6, 44.8, 45.0, 45.2, 45.4, 45.6, 45.8], "grid": false, "tickSize": -6}},
"color": {"condition": [{"test": "datum.e === 'Obs.'", "value": "#2a962a"}, {"test": "datum.e === 'Ny strat.'", "value": "#1f78e8"}, {"test": "datum.e === 'Natur2'", "value": "#d42020"}], "value": "#222222"}
}
},
{
"data": {"name": "boxes"},
"mark": {"type": "tick", "thickness": 1.5, "size": 4},
"encoding": {
"x": {"field": "m", "type": "ordinal", "axis": null},
"xOffset": {"field": "e", "type": "nominal"},
"y": {"field": "hi", "type": "quantitative", "axis": null},
"color": {"condition": [{"test": "datum.e === 'Obs.'", "value": "#2a962a"}, {"test": "datum.e === 'Ny strat.'", "value": "#1f78e8"}, {"test": "datum.e === 'Natur2'", "value": "#d42020"}], "value": "#222222"}
}
},
{
"data": {"name": "boxes"},
"mark": {"type": "bar", "width": 7, "strokeWidth": 1.5},
"encoding": {
"x": {"field": "m", "type": "ordinal", "axis": null},
"xOffset": {"field": "e", "type": "nominal"},
"y": {"field": "q1", "type": "quantitative", "axis": null},
"y2": {"field": "q3"},
"fill": {"condition": [{"test": "datum.e === 'Obs.'", "value": "#c3d99e"}, {"test": "datum.e === 'Ny strat.'", "value": "#c6d6ef"}, {"test": "datum.e === 'Natur2'", "value": "#f2d9d9"}], "value": "#d6d6d6"},
"stroke": {"condition": [{"test": "datum.e === 'Obs.'", "value": "#2b8f2b"}, {"test": "datum.e === 'Ny strat.'", "value": "#9db0d4"}, {"test": "datum.e === 'Natur2'", "value": "#d4a9a9"}], "value": "#a9a9a9"}
}
},
{
"data": {"name": "boxes"},
"mark": {"type": "point", "size": 100, "strokeWidth": 2, "opacity": 1},
"encoding": {
"x": {"field": "m", "type": "ordinal", "axis": null},
"xOffset": {"field": "e", "type": "nominal"},
"y": {"field": "med", "type": "quantitative", "axis": null},
"stroke": {"field": "e", "type": "nominal", "scale": {"domain": ["Obs.", "Obs. Outliers", "Obs. Extremes", "Ny strat.", "Ny strat. Outliers", "Ny strat. Extremes", "Natur2", "Natur2 Outliers", "Natur2 Extremes", "Natur1", "Natur1 Outliers", "Natur1 Extremes"], "range": ["#1e8a1e", "#2eaa2e", "#8b1a1a", "#1f7ff0", "#2a88f2", "#1f7ff0", "#d01515", "#d42222", "#c81414", "#111111", "#111111", "#111111"]},
"legend": {"orient": "none", "legendX": 929, "legendY": 332, "title": null, "labelFont": "Liberation Sans", "labelFontSize": 18, "labelColor": "#000", "rowPadding": 3.2, "labelOffset": 7, "symbolSize": 170, "symbolStrokeWidth": 1.8, "labelExpr": "indexof(datum.label, 'Outliers') >= 0 ? 'Outliers' : (indexof(datum.label, 'Extremes') >= 0 ? 'Extremes' : datum.label)"}},
"fill": {"field": "e", "type": "nominal", "scale": {"domain": ["Obs.", "Obs. Outliers", "Obs. Extremes", "Ny strat.", "Ny strat. Outliers", "Ny strat. Extremes", "Natur2", "Natur2 Outliers", "Natur2 Extremes", "Natur1", "Natur1 Outliers", "Natur1 Extremes"], "range": ["#c3d99e", "transparent", "transparent", "#c6d6ef", "transparent", "transparent", "#f2d9d9", "transparent", "transparent", "#d6d6d6", "transparent", "transparent"]},
"legend": {"orient": "none", "legendX": 929, "legendY": 332, "title": null, "labelFont": "Liberation Sans", "labelFontSize": 18, "labelColor": "#000", "rowPadding": 3.2, "labelOffset": 7, "symbolSize": 170, "symbolStrokeWidth": 1.8, "labelExpr": "indexof(datum.label, 'Outliers') >= 0 ? 'Outliers' : (indexof(datum.label, 'Extremes') >= 0 ? 'Extremes' : datum.label)"}},
"shape": {"field": "e", "type": "nominal", "scale": {"domain": ["Obs.", "Obs. Outliers", "Obs. Extremes", "Ny strat.", "Ny strat. Outliers", "Ny strat. Extremes", "Natur2", "Natur2 Outliers", "Natur2 Extremes", "Natur1", "Natur1 Outliers", "Natur1 Extremes"], "range": ["square", "M-0.45,0A0.45,0.45,0,1,0,0.45,0A0.45,0.45,0,1,0,-0.45,0Z", "M-0.5,0L0.5,0M0,-0.5L0,0.5M-0.35,-0.35L0.35,0.35M-0.35,0.35L0.35,-0.35", "square", "M-0.45,0A0.45,0.45,0,1,0,0.45,0A0.45,0.45,0,1,0,-0.45,0Z", "M-0.5,0L0.5,0M0,-0.5L0,0.5M-0.35,-0.35L0.35,0.35M-0.35,0.35L0.35,-0.35", "square", "M-0.45,0A0.45,0.45,0,1,0,0.45,0A0.45,0.45,0,1,0,-0.45,0Z", "M-0.5,0L0.5,0M0,-0.5L0,0.5M-0.35,-0.35L0.35,0.35M-0.35,0.35L0.35,-0.35", "square", "M-0.45,0A0.45,0.45,0,1,0,0.45,0A0.45,0.45,0,1,0,-0.45,0Z", "M-0.5,0L0.5,0M0,-0.5L0,0.5M-0.35,-0.35L0.35,0.35M-0.35,0.35L0.35,-0.35"]},
"legend": {"orient": "none", "legendX": 929, "legendY": 332, "title": null, "labelFont": "Liberation Sans", "labelFontSize": 18, "labelColor": "#000", "rowPadding": 3.2, "labelOffset": 7, "symbolSize": 170, "symbolStrokeWidth": 1.8, "labelExpr": "indexof(datum.label, 'Outliers') >= 0 ? 'Outliers' : (indexof(datum.label, 'Extremes') >= 0 ? 'Extremes' : datum.label)"}}
}
},
{
"data": {"name": "pts"},
"mark": {"type": "point", "strokeWidth": 1, "opacity": 1},
"encoding": {
"x": {"field": "m", "type": "ordinal", "axis": null},
"xOffset": {"field": "s", "type": "nominal"},
"y": {"field": "v", "type": "quantitative", "axis": null},
"stroke": {"field": "e", "type": "nominal"},
"fill": {"field": "e", "type": "nominal"},
"shape": {"field": "e", "type": "nominal"},
"size": {"condition": {"test": "indexof(datum.e, 'Extremes') >= 0", "value": 100}, "value": 120}
}
}
],
"resolve": {"axis": {"x": "independent", "y": "independent"}},
"config": {
"view": {"stroke": "#3a3a3a", "strokeWidth": 2},
"axis": {"labelFont": "Liberation Sans", "labelFontSize": 17, "labelColor": "#000", "titleFont": "Liberation Sans", "titleFontSize": 17, "titleFontWeight": "normal", "titleColor": "#000", "domain": false, "tickColor": "#333", "tickWidth": 1.5}
}
}
